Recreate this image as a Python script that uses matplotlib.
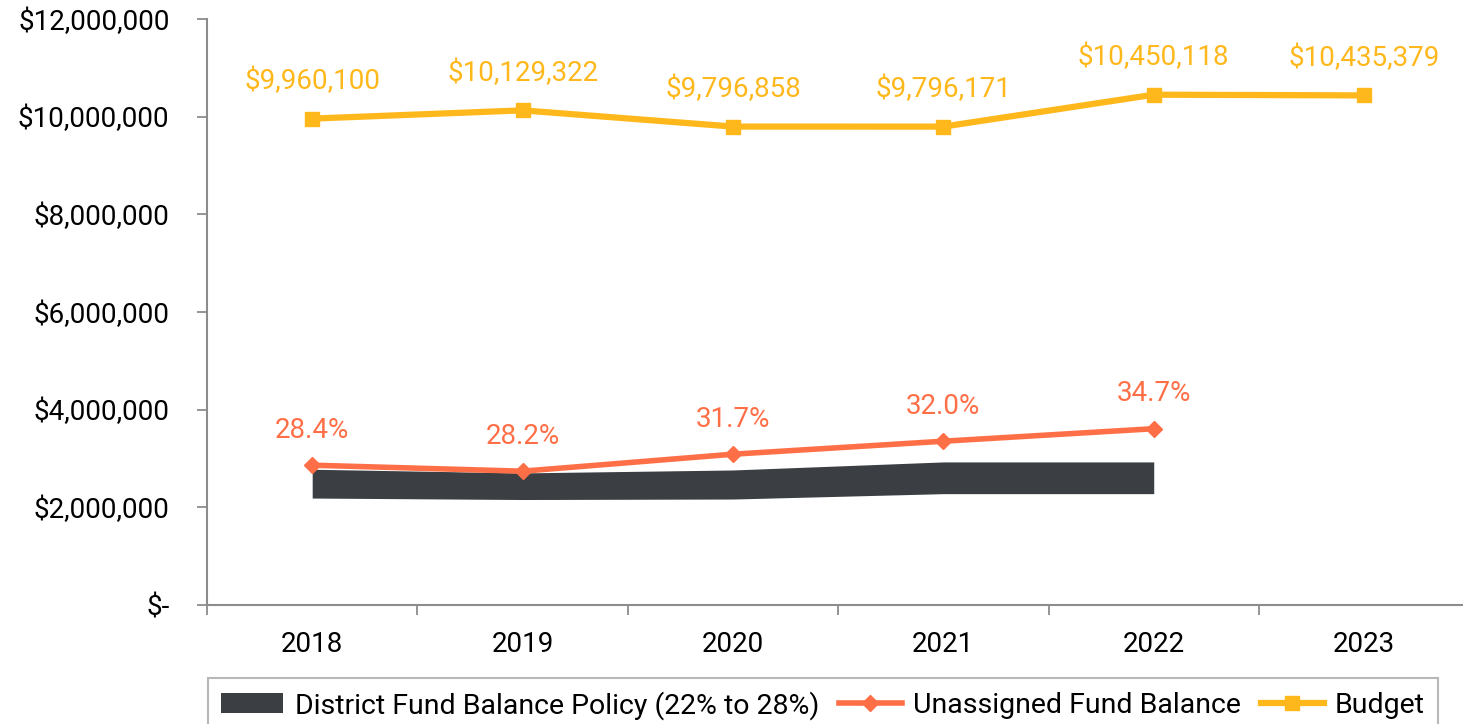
import matplotlib
matplotlib.use("Agg")
import matplotlib.pyplot as plt
from matplotlib.ticker import FuncFormatter, FixedLocator

plt.rcParams["font.family"] = ["Roboto", "DejaVu Sans"]

years = ["2018", "2019", "2020", "2021", "2022", "2023"]
budget = [9960100, 10129322, 9796858, 9796171, 10450118, 10435379]
unassigned = [2863000, 2740000, 3088000, 3354000, 3610000]
unassigned_pct = ["28.4%", "28.2%", "31.7%", "32.0%", "34.7%"]
policy_low = [2190000, 2160000, 2170000, 2280000, 2280000]
policy_high = [2780000, 2705000, 2765000, 2930000, 2930000]

dark = "#3b3f43"
orange = "#ff6f47"
gold = "#ffb81c"
axis_gray = "#8c8c8c"
fs = 20

fig = plt.figure(figsize=(14.63, 7.24), dpi=100)
ax = fig.add_axes([207 / 1463, 1 - 605 / 724, 1 - 207 / 1463, (605 - 19) / 724])

x = list(range(len(years)))

# policy band 22% to 28%
ax.fill_between(x[:5], policy_low, policy_high, color=dark, lw=0,
                label="District Fund Balance Policy (22% to 28%)", zorder=2)

ax.plot(x[:5], unassigned, color=orange, lw=4, marker="D", markersize=8,
        label="Unassigned Fund Balance", zorder=3)
ax.plot(x, budget, color=gold, lw=4.5, marker="s", markersize=10,
        label="Budget", zorder=3)

for i, v in enumerate(budget):
    ax.annotate(f"${v:,.0f}", (i, v), xytext=(0, 27), textcoords="offset points",
                ha="center", va="center", color=gold, fontsize=fs)
for i, v in enumerate(unassigned):
    ax.annotate(unassigned_pct[i], (i, v), xytext=(0, 25), textcoords="offset points",
                ha="center", va="center", color=orange, fontsize=fs)

ax.set_ylim(0, 12000000)
ax.set_xlim(-0.5, 5.47)
ax.set_yticks(range(0, 12000001, 2000000))
ax.yaxis.set_major_formatter(FuncFormatter(lambda v, p: "$-" if v == 0 else f"${v:,.0f}"))

ax.set_xticks(x)
ax.set_xticklabels(years)
ax.xaxis.set_minor_locator(FixedLocator([i - 0.5 for i in range(7)]))
ax.tick_params(axis="x", which="major", length=0, pad=19, labelsize=fs)
ax.tick_params(axis="x", which="minor", length=7, width=1.3, color=axis_gray)
ax.tick_params(axis="y", length=7, width=1.3, color=axis_gray, pad=20, labelsize=fs)

for s in ["top", "right"]:
    ax.spines[s].set_visible(False)
for s in ["left", "bottom"]:
    ax.spines[s].set_color(axis_gray)
    ax.spines[s].set_linewidth(1.5)

leg = fig.legend(loc="upper left", bbox_to_anchor=(208 / 1463, 1 - 678 / 724),
                 ncol=3, frameon=True, fancybox=False, fontsize=20.5,
                 handlelength=2.2, handletextpad=0.4, columnspacing=0.7,
                 borderpad=0.45, borderaxespad=0)
leg.get_frame().set_edgecolor("#a6a6a6")
leg.get_frame().set_linewidth(1.5)

fig.savefig("out.png", dpi=100)
